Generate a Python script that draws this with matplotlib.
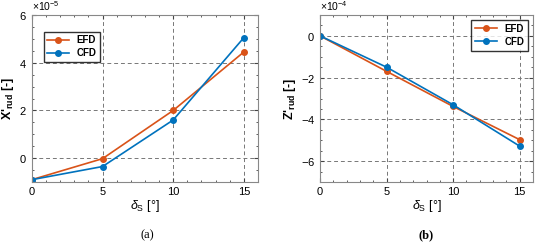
import numpy as np
import matplotlib
matplotlib.use("Agg")
import matplotlib.pyplot as plt
from matplotlib.ticker import MultipleLocator, ScalarFormatter

plt.rcParams["font.family"] = ["Liberation Sans", "DejaVu Sans"]
plt.rcParams["mathtext.fontset"] = "custom"
plt.rcParams["mathtext.rm"] = "Liberation Sans"
plt.rcParams["mathtext.it"] = "Liberation Sans:italic"
plt.rcParams["mathtext.bf"] = "Liberation Sans:bold"

# data
delta = [0, 5, 10, 15]
x_efd = [-0.9e-5, -0.02e-5, 2.0e-5, 4.45e-5]
x_cfd = [-0.9e-5, -0.35e-5, 1.6e-5, 5.05e-5]
z_efd = [0.0, -1.7e-4, -3.38e-4, -4.97e-4]
z_cfd = [0.0, -1.5e-4, -3.3e-4, -5.28e-4]

c_efd = "#D95319"
c_cfd = "#0072BD"

fig = plt.figure(figsize=(5.5, 2.46), dpi=100)
ax1 = fig.add_axes([0.058, 0.26, 0.411, 0.679])
ax2 = fig.add_axes([0.582, 0.26, 0.387, 0.679])

def style(ax, efd, cfd, ylim, ystep, ylabel, leg_loc):
    ax.plot(delta, efd, "-o", color=c_efd, lw=1.2, ms=4, label="EFD")
    ax.plot(delta, cfd, "-o", color=c_cfd, lw=1.2, ms=4, label="CFD")
    ax.set_xlim(0, 16)
    ax.set_ylim(*ylim)
    ax.xaxis.set_major_locator(MultipleLocator(5))
    ax.xaxis.set_minor_locator(MultipleLocator(1))
    ax.yaxis.set_major_locator(MultipleLocator(ystep))
    ax.yaxis.set_minor_locator(MultipleLocator(ystep / 4))
    fmt = ScalarFormatter(useMathText=True)
    fmt.set_powerlimits((0, 0))
    ax.yaxis.set_major_formatter(fmt)
    ax.yaxis.get_offset_text().set_fontsize(7.5)
    ax.grid(True, which="major", ls=(0, (4, 3)), color="#777777", lw=0.7)
    ax.tick_params(which="both", direction="in", labelsize=8, color="#444444",
                   top=True, right=True)
    ax.tick_params(which="major", length=3)
    ax.tick_params(which="minor", length=1.5)
    for s in ax.spines.values():
        s.set_color("#888888")
        s.set_linewidth(0.8)
    ax.set_xlabel(r"$\mathit{\delta}_\mathrm{S}$ [°]", fontsize=9, labelpad=1)
    ax.set_ylabel(ylabel, fontsize=9, fontweight="bold", labelpad=2)
    return ax.legend(loc=leg_loc, frameon=True, fancybox=False,
                     edgecolor="black", handlelength=2.2, borderpad=0.4,
                     labelspacing=0.3, prop={"weight": "bold", "size": 7})

style(ax1, x_efd, x_cfd, (-1e-5, 6e-5), 2e-5, r"X'$_\mathbf{rud}$ [-]", "upper left")
style(ax2, z_efd, z_cfd, (-7e-4, 1e-4), 2e-4, r"Z'$_\mathbf{rud}$ [-]", "upper right")
ax1.legend_.set_bbox_to_anchor((0.03, 0.93))

fig.text(0.268, 0.03, "(a)", fontsize=9, family="Liberation Serif", ha="center")
fig.text(0.775, 0.03, "(b)", fontsize=9, family="Liberation Serif", ha="center",
         fontweight="bold")

fig.savefig("out.png", dpi=100)
